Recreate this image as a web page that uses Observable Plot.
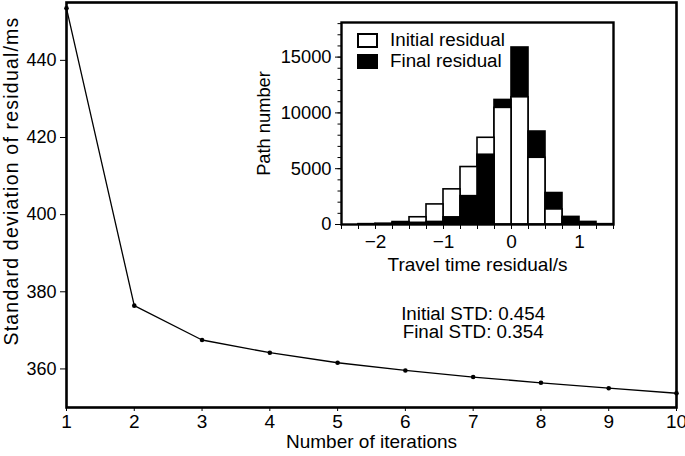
<!DOCTYPE html>
<html><head><meta charset="utf-8">
<script src="https://cdn.jsdelivr.net/npm/d3@7"></script>
<script src="https://cdn.jsdelivr.net/npm/@observablehq/plot@0.6"></script>
<style>
body{margin:0;background:white;}
#wrap{position:relative;width:685px;height:456px;font-family:"Liberation Sans",Arial,sans-serif;color:black;}
#inset{position:absolute;left:240px;top:10px;}
.sw{position:absolute;left:357px;width:17px;height:11px;border:2px solid black;}
.lt{position:absolute;left:390px;font-size:18.8px;line-height:20px;white-space:nowrap;}
.ylab text{letter-spacing:1.2px;}
</style></head><body><div id="wrap"></div>
<script>
// Main chart data
const iterations = [1, 2, 3, 4, 5, 6, 7, 8, 9, 10];
const stdMs = [453.5, 376.4, 367.5, 364.2, 361.6, 359.6, 357.9, 356.4, 355.0, 353.7];
const yTicksMain = [360, 380, 400, 420, 440];
const yLabelMain = "Standard deviation of residual/ms";
const statLines = ["Initial STD: 0.454", "Final STD: 0.354"];

// Inset histogram data (bin width 0.25 s)
const binStart = [-2.25, -2.0, -1.75, -1.5, -1.25, -1.0, -0.75, -0.5, -0.25, 0.0, 0.25, 0.5, 0.75, 1.0, 1.25];
const initialCounts = [20, 40, 120, 650, 1800, 3150, 5150, 7770, 10450, 11400, 5980, 1350, 80, 20, 0];
const finalCounts = [30, 60, 220, 150, 230, 640, 2540, 6250, 11160, 15860, 8330, 2820, 680, 230, 30];
const seriesNames = ["Initial residual", "Final residual"];
const xTicksInset = [-2, -1, 0, 1];
const yTicksInset = [0, 5000, 10000, 15000];

const font = '"Liberation Sans", Arial, sans-serif';
const wrap = document.getElementById("wrap");
const fmtInt = d3.format("d");

const main = Plot.plot({
  width: 685, height: 456,
  marginLeft: 66, marginRight: 9, marginTop: 2, marginBottom: 49,
  style: {fontFamily: font, fontSize: "18px", background: "white", color: "black"},
  x: {domain: [1, 10]},
  y: {domain: [350, 455]},
  marks: [
    Plot.axisY({ticks: yTicksMain, tickSize: 6, tickPadding: 4, tickFormat: fmtInt, label: null, fontSize: 18}),
    Plot.text([yLabelMain], {frameAnchor: "left", textAnchor: "middle", rotate: -90, dx: -55, dy: -24, fontSize: 19.5, className: "ylab"}),
    Plot.axisX({ticks: iterations, tickSize: 4, tickPadding: 3, tickFormat: fmtInt, label: "Number of iterations",
      labelAnchor: "center", labelArrow: "none", labelOffset: 40, fontSize: 19}),
    Plot.line(iterations, {x: d => d, y: (d, i) => stdMs[i], stroke: "black", strokeWidth: 1.3}),
    Plot.dot(iterations, {x: d => d, y: (d, i) => stdMs[i], r: 2.3, fill: "black"}),
    Plot.text([statLines.join("\n")], {x: () => 7, y: () => 371.8, fontSize: 18.8, lineHeight: 0.92, textAnchor: "middle"}),
    Plot.frame({stroke: "black", strokeWidth: 2.6})
  ]
});
wrap.appendChild(main);

const histData = [];
binStart.forEach((b, i) => {
  histData.push({x1: b, x2: b + 0.25, n: initialCounts[i], s: seriesNames[0]});
  histData.push({x1: b, x2: b + 0.25, n: finalCounts[i], s: seriesNames[1]});
});
const sortedHist = d3.sort(histData.filter(d => d.n > 0), (a, b) => b.n - a.n);

const inset = Plot.plot({
  width: 380, height: 275,
  marginLeft: 101, marginRight: 7, marginTop: 12, marginBottom: 61,
  style: {fontFamily: font, fontSize: "18px", background: "transparent", color: "black"},
  x: {domain: [-2.5, 1.5]},
  y: {domain: [0, 18100]},
  color: {domain: seriesNames, range: ["white", "black"]},
  marks: [
    Plot.frame({fill: "white", stroke: "none"}),
    Plot.axisY({ticks: d3.range(0, 18001, 1000), tickSize: 3.5, text: null, label: null}),
    Plot.axisY({ticks: yTicksInset, tickSize: 6, tickPadding: 4, tickFormat: fmtInt, label: "Path number",
      labelAnchor: "center", labelArrow: "none", labelOffset: 85, fontSize: 18.3}),
    Plot.axisX({ticks: d3.range(-2.5, 1.51, 0.25), tickSize: 5, text: null, label: null}),
    Plot.axisX({ticks: xTicksInset, tickSize: 5, tickPadding: 5, tickFormat: fmtInt, label: "Travel time residual/s",
      labelAnchor: "center", labelArrow: "none", labelOffset: 46, fontSize: 19}),
    Plot.rect(sortedHist, {x1: "x1", x2: "x2", y1: 0, y2: "n", fill: "s", stroke: "black", strokeWidth: 1.6}),
    Plot.frame({stroke: "black", strokeWidth: 2.4})
  ]
});
inset.id = "inset";
wrap.appendChild(inset);

// Legend
seriesNames.forEach((name, i) => {
  const sw = document.createElement("div");
  sw.className = "sw";
  sw.style.top = (33 + i * 21) + "px";
  sw.style.background = i === 0 ? "white" : "black";
  wrap.appendChild(sw);
  const t = document.createElement("div");
  t.className = "lt";
  t.style.top = (30 + i * 21) + "px";
  t.textContent = name;
  wrap.appendChild(t);
});
</script>
</body></html>
